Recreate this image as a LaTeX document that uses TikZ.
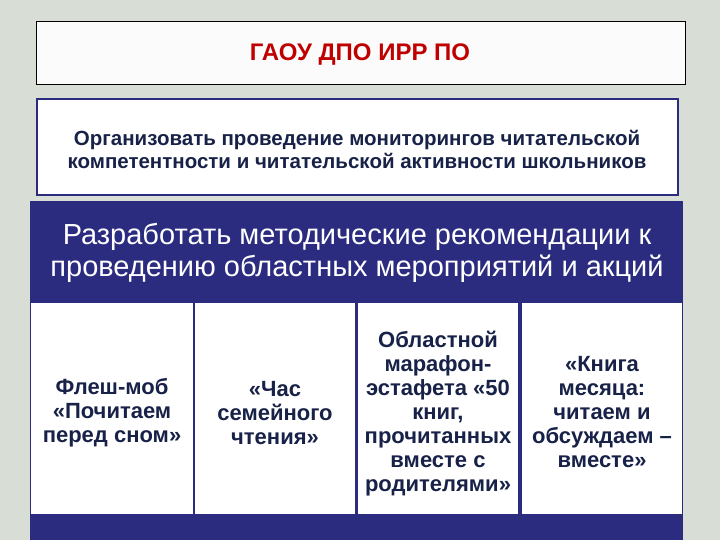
\documentclass[tikz,border=0pt]{standalone}
\usepackage{fontspec}
\setmainfont{Liberation Sans}
\usetikzlibrary{positioning}
\definecolor{navy}{RGB}{43,43,128}
\definecolor{inkblue}{RGB}{24,34,72}
\definecolor{darkred}{RGB}{192,0,0}
\definecolor{bggray}{RGB}{216,221,214}

\begin{document}
\begin{tikzpicture}[x = 1pt, y = -1pt,
  celltext/.style = {align = center, text = inkblue, inner sep = 0pt,
    font = \bfseries\fontsize{22}{24}\selectfont}]
\fill[bggray] (0,0) rectangle (720,540);
\useasboundingbox (0,0) rectangle (720,540);
% header boxes
\draw[fill = white!97!gray, draw = black, line width = .8pt] (36,21) rectangle (685,84);
\node[text = darkred, font = \bfseries\fontsize{24}{28}\selectfont] (gaou) at (360,55) {ГАОУ ДПО ИРР ПО};
\draw[fill = white, draw = navy, line width = 2pt] (37,99) rectangle (678,195);
\node[align = center, text = inkblue, font = \bfseries\fontsize{20.5}{23}\selectfont] (monit) at (357,149)
  {Организовать проведение мониторингов читательской\\компетентности и читательской активности школьников};
% blue block
\fill[navy] (30,201) rectangle (683,540);
\node[align = center, text = white, font = \fontsize{29}{32}\selectfont] (recom) at (357,253)
  {Разработать методические рекомендации к\\проведению областных мероприятий и акций};
% table cells
\foreach \xa/\xb in {31/193, 195/355, 358/518, 522/682}
  \fill[white] (\xa,303) rectangle (\xb,514);
\node[celltext] (flash) at (112,413) {Флеш-моб\\«Почитаем\\перед сном»};
\node[celltext] (hour) at (275,413) {«Час\\семейного\\чтения»};
\node[celltext] (relay) at (438,414)
  {Областной\\марафон-\\эстафета «50\\книг,\\прочитанных\\вместе с\\родителями»};
\node[celltext] (book) at (602,412)
  {«Книга\\месяца:\\читаем и\\обсуждаем –\\вместе»};
\end{tikzpicture}
\end{document}
